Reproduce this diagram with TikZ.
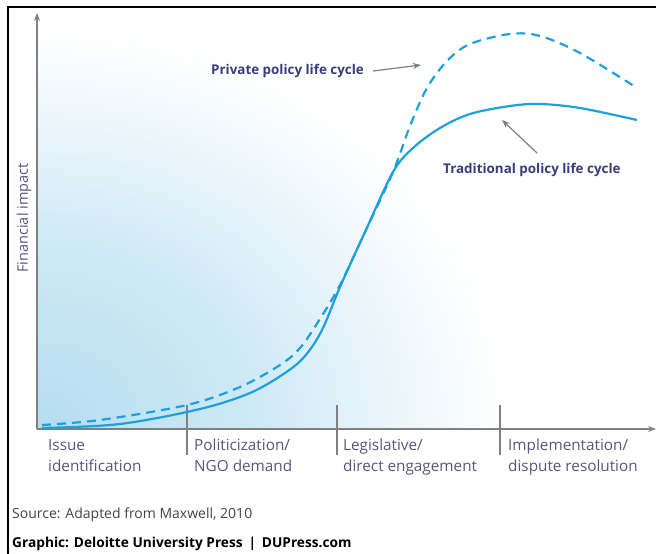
\documentclass[tikz,border=0pt]{standalone}
\usepackage{fontspec}
\setmainfont{Open Sans}
\usetikzlibrary{arrows.meta}
\definecolor{curvecol}{RGB}{30,160,220}
\definecolor{navy}{RGB}{58,60,124}
\definecolor{axisgray}{RGB}{128,128,128}
\definecolor{labeltext}{RGB}{88,86,128}
\definecolor{srcgray}{RGB}{68,68,68}
\definecolor{bgA}{RGB}{180,221,239}
\definecolor{bgB}{RGB}{208,234,246}
\definecolor{bgC}{RGB}{236,246,251}
\pgfdeclareradialshading{bluefade}{\pgfpoint{0bp}{0bp}}{color(0bp)=(bgA); color(12bp)=(bgB); color(19bp)=(bgC); color(25bp)=(white); color(50bp)=(white)}
\tikzset{
  axisline/.style={draw=axisgray, line width=1.3bp, -{Stealth[length=8bp,width=6bp]}},
  tickline/.style={draw=axisgray, line width=1.2bp},
  solidcurve/.style={draw=curvecol, line width=2.2bp},
  dashcurve/.style={draw=curvecol, line width=2.2bp, dash pattern=on 9bp off 6bp},
  pointer/.style={draw=axisgray, line width=1.2bp, -{Stealth[length=8bp,width=6bp]}},
  stagelabel/.style={anchor=north west, align=left, inner sep=0pt, text=labeltext, font=\fontsize{15.3bp}{21bp}\selectfont},
  curvelabel/.style={inner sep=0pt, text=navy, font=\bfseries\fontsize{13.4bp}{15bp}\selectfont},
}
\begin{document}
\begin{tikzpicture}[x=1bp,y=-1bp]
\useasboundingbox (0,0) rectangle (656,554);
\fill[white] (0,0) rectangle (656,554);
% background fade
\begin{scope}
\clip (37,429) rectangle (656,12);
\shade[shading=bluefade] (37,429) ellipse [x radius=475, y radius=405];
\end{scope}
% frame
\draw[line width=2.2bp, black] (8,554) -- (8,7) -- (656,7);
% axes
\coordinate (O) at (37,429);
\coordinate (ytip) at (37,13);
\coordinate (xtip) at (656,429);
\draw[axisline] (O) -- (ytip);
\draw[axisline] (O) -- (xtip);
% ticks
\coordinate (t1a) at (187,405); \coordinate (t1b) at (187,455);
\coordinate (t2a) at (337,405); \coordinate (t2b) at (337,455);
\coordinate (t3a) at (500,405); \coordinate (t3b) at (500,455);
\draw[tickline] (t1a) -- (t1b);
\draw[tickline] (t2a) -- (t2b);
\draw[tickline] (t3a) -- (t3b);
% curves
\draw[dashcurve] plot[smooth, tension=0.55] coordinates {(42,425) (100,420) (187,405) (240,387) (280,365) (300,348) (318,322) (340,285) (365,232) (393,172) (410,126) (427,88) (447,61) (470,44) (510,34) (540,36) (580,53) (637,88)};
\draw[solidcurve] plot[smooth, tension=0.55] coordinates {(42,428) (120,424) (200,409) (250,393) (285,373) (305,356) (322,330) (340,287) (365,232) (393,172) (413,148) (440,128) (470,114) (510,106) (540,104) (580,108) (637,120)};
% curve labels
\node[curvelabel, anchor=west] (priv) at (211,71) {Private policy life cycle};
\node[curvelabel, anchor=west] (trad) at (443,170) {Traditional policy life cycle};
\coordinate (privtip) at (421,65);
\coordinate (tradtip) at (502,120);
\draw[pointer] ([xshift=9bp]priv.east) -- (privtip);
\draw[pointer] (537,153) -- (tradtip);
% y label
\node[rotate=90, inner sep=0pt, text=labeltext, font=\fontsize{14.5bp}{16bp}\selectfont] (ylab) at (24,218) {Financial impact};
% stage labels
\node[stagelabel] (s1) at (48,439) {Issue\\identification};
\node[stagelabel] (s2) at (194,439) {Politicization/\\NGO demand};
\node[stagelabel] (s3) at (343,439) {Legislative/\\direct engagement};
\node[stagelabel] (s4) at (508,439) {Implementation/\\dispute resolution};
% source
\node[anchor=west, inner sep=0pt, text=srcgray, font=\fontsize{14bp}{16bp}\selectfont] (src) at (12,515) {Source: Adapted from Maxwell, 2010};
\node[anchor=west, inner sep=0pt, text=black, font=\bfseries\fontsize{13.7bp}{15bp}\selectfont] (credit) at (12,544) {Graphic: Deloitte University Press \,|\, DUPress.com};
\end{tikzpicture}
\end{document}
